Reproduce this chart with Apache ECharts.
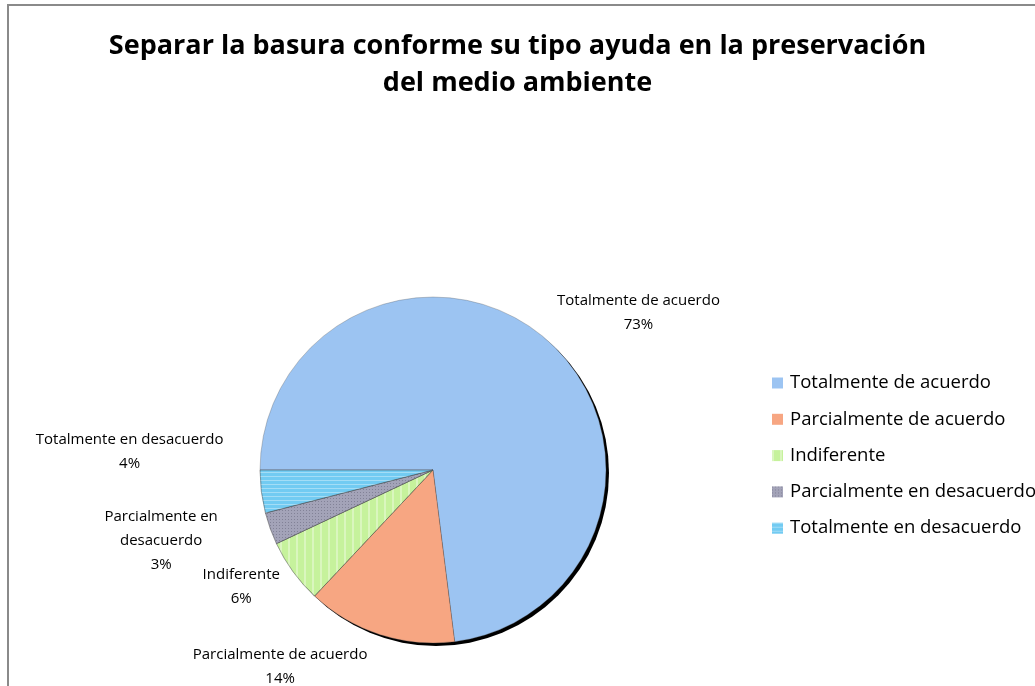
<!DOCTYPE html>
<html>
<head>
<meta charset="utf-8">
<script src="https://cdn.jsdelivr.net/npm/echarts@6/dist/echarts.min.js"></script>
<style>
  html, body { margin: 0; padding: 0; background: #fff; }
  #chart { width: 1035px; height: 686px; }
</style>
</head>
<body>
<div id="chart"></div>
<script>
// categorias y porcentajes
var categories = ["Totalmente de acuerdo", "Parcialmente de acuerdo", "Indiferente", "Parcialmente en desacuerdo", "Totalmente en desacuerdo"]
var labelNames = ["Totalmente de acuerdo", "Parcialmente de acuerdo", "Indiferente", "Parcialmente en\ndesacuerdo", "Totalmente en desacuerdo"]
var values = [73, 14, 6, 3, 4]
var colors = ["#9cc4f2", "#f7a682", "#c6f29c", "#a3a3b8", "#72cbf2"]

// ajustes de las etiquetas (estilo Excel)
var labelShift = [[-2, -20], [-4, 23], [0, 9], [-38, 9], [-23, -41]]

var decals = [
  null,
  null,
  { symbol: "rect", symbolSize: 1, dashArrayX: [2, 6], dashArrayY: [10, 0], color: "rgba(255,255,255,0.35)" },
  { symbol: "rect", symbolSize: 1, dashArrayX: [1, 2], dashArrayY: [1, 2], color: "rgba(90,90,110,0.45)" },
  { symbol: "rect", symbolSize: 1, dashArrayX: [10, 0], dashArrayY: [1, 3], color: "rgba(255,255,255,0.35)" }
]

var total = values.reduce(function (a, b) { return a + b }, 0)

var pieData = categories.map(function (name, i) {
  var item = { name: name, value: values[i], itemStyle: { color: colors[i] } }
  if (decals[i]) item.itemStyle.decal = decals[i]
  return item
})

var chart = echarts.init(document.getElementById("chart"))

var option = {
  backgroundColor: "#fff",
  animation: false,
  title: {
    text: "Separar la basura conforme su tipo ayuda en la preservación\ndel medio ambiente",
    left: "center",
    top: 23,
    textStyle: {
      fontFamily: "Open Sans",
      fontWeight: "bold",
      fontSize: 27,
      lineHeight: 37,
      color: "#000"
    }
  },
  graphic: [{
    type: "rect",
    z: -10,
    shape: { x: 8, y: 5, width: 1100, height: 800 },
    style: { fill: "none", stroke: "#8a8a8a", lineWidth: 2 }
  }],
  legend: {
    orient: "vertical",
    left: 767,
    top: 368,
    itemWidth: 11,
    itemHeight: 11,
    itemGap: 16.3,
    icon: "rect",
    data: categories,
    itemStyle: { borderWidth: 0 },
    textStyle: {
      fontFamily: "Open Sans",
      fontSize: 18.5,
      lineHeight: 20,
      color: "#000",
      padding: [0, 0, 0, 2]
    }
  },
  series: [
    {
      // sombra negra de la torta
      type: "pie",
      silent: true,
      z: 1,
      center: [436, 473],
      radius: 173,
      label: { show: false },
      labelLine: { show: false },
      data: [{ name: "", value: total, itemStyle: { color: "#000" } }]
    },
    {
      type: "pie",
      z: 2,
      center: [433, 470],
      radius: 173,
      startAngle: 180,
      clockwise: true,
      avoidLabelOverlap: false,
      percentPrecision: 0,
      itemStyle: {
        borderColor: "rgba(80,80,80,0.6)",
        borderWidth: 0.5
      },
      emphasis: { disabled: true },
      label: {
        show: true,
        position: "outside",
        fontFamily: "Open Sans",
        fontSize: 15,
        lineHeight: 24,
        color: "#000",
        formatter: function (p) {
          return labelNames[p.dataIndex] + "\n" + p.percent + "%"
        }
      },
      labelLine: { show: false, length: 10, length2: 0 },
      labelLayout: function (params) {
        var r = params.labelRect
        var s = labelShift[params.dataIndex]
        return {
          x: r.x + r.width / 2 + s[0],
          y: r.y + r.height / 2 + s[1],
          align: "center",
          verticalAlign: "middle"
        }
      },
      data: pieData
    }
  ]
}

chart.setOption(option)
</script>
</body>
</html>
